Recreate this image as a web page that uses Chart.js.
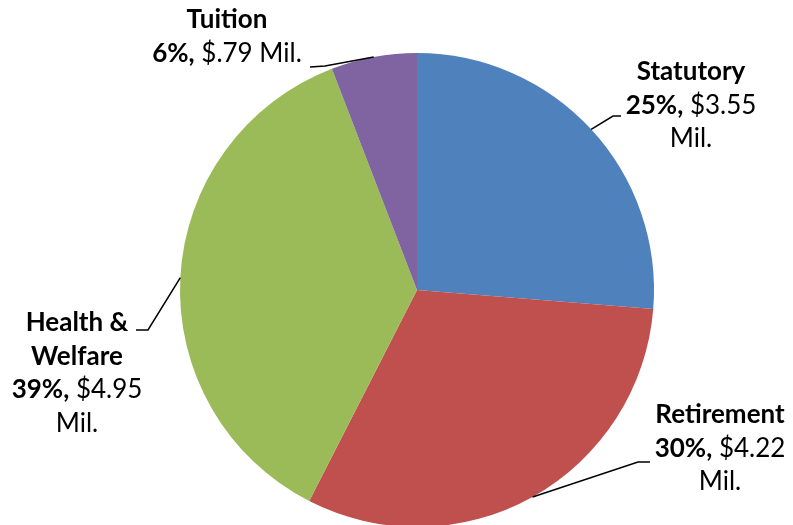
<!DOCTYPE html>
<html>
<head>
<meta charset="utf-8">
<script src="https://cdn.jsdelivr.net/npm/chart.js@4/dist/chart.umd.min.js"></script>
<style>
  html, body { margin: 0; padding: 0; background: #fff; overflow: hidden; }
  #wrap { width: 793px; height: 525px; overflow: hidden; position: relative; }
  #wrap canvas { position: absolute; left: 0; top: 0; }
</style>
</head>
<body>
<div id="wrap"><canvas id="pieChart" width="793" height="560"></canvas></div>
<script>
const categories = ["Statutory", "Retirement", "Health & Welfare", "Tuition"];
const amounts = [3.55, 4.22, 4.95, 0.79];          // $ millions
const percentLabels = ["25%", "30%", "39%", "6%"];
const amountLabels = ["$3.55 Mil.", "$4.22 Mil.", "$4.95 Mil.", "$.79 Mil."];
const colors = ["#4F81BD", "#C0504D", "#9BBB59", "#8064A2"];

const FONT = "Lato, 'Open Sans', sans-serif";
const FS = 26;
const LH = 33.5;

// label block layout: center x, first baseline y, lines, elbow point
const labelLayout = [
    { x: 691, y: 80, lines: [[["Statutory", true]], [["25%,", true], [" $3.55", false]], [["Mil.", false]]], elbow: [613, 116], end: [621, 116] },
    { x: 720, y: 423, lines: [[["Retirement", true]], [["30%,", true], [" $4.22", false]], [["Mil.", false]]], elbow: [638, 462], end: [650, 462] },
    { x: 77, y: 331, lines: [[["Health &", true]], [["Welfare", true]], [["39%,", true], [" $4.95", false]], [["Mil.", false]]], elbow: [148, 330], end: [136, 330] },
    { x: 227, y: 28, lines: [[["Tuition", true]], [["6%,", true], [" $.79 Mil.", false]]], elbow: [325, 66], end: [310, 67] }
];

function drawRuns(ctx, runs, cx, y) {
    let total = 0;
    runs.forEach(([t, b]) => {
        ctx.font = (b ? "bold " : "") + FS + "px " + FONT;
        total += ctx.measureText(t).width;
    });
    let x = cx - total / 2;
    runs.forEach(([t, b]) => {
        ctx.font = (b ? "bold " : "") + FS + "px " + FONT;
        ctx.fillText(t, x, y);
        x += ctx.measureText(t).width;
    });
}

const labelPlugin = {
    id: "pieLabels",
    afterDraw(chart) {
        const ctx = chart.ctx;
        const arcs = chart.getDatasetMeta(0).data;
        ctx.save();
        ctx.fillStyle = "#000";
        ctx.textBaseline = "alphabetic";
        arcs.forEach((arc, i) => {
            const lay = labelLayout[i];
            const mid = (arc.startAngle + arc.endAngle) / 2;
            const px = arc.x + Math.cos(mid) * arc.outerRadius;
            const py = arc.y + Math.sin(mid) * arc.outerRadius;
            ctx.strokeStyle = "#000";
            ctx.lineWidth = 1.5;
            ctx.beginPath();
            ctx.moveTo(px, py);
            ctx.lineTo(lay.elbow[0], lay.elbow[1]);
            ctx.lineTo(lay.end[0], lay.end[1]);
            ctx.stroke();
            lay.lines.forEach((runs, k) => drawRuns(ctx, runs, lay.x, lay.y + k * LH));
        });
        ctx.restore();
    }
};

new Chart(document.getElementById("pieChart").getContext("2d"), {
    type: "pie",
    data: {
        labels: categories,
        datasets: [{
            data: amounts,
            backgroundColor: colors,
            borderWidth: 0
        }]
    },
    options: {
        responsive: false,
        animation: false,
        layout: { padding: { left: 180, right: 139, top: 53, bottom: 33 } },
        plugins: {
            legend: { display: false },
            tooltip: { enabled: false }
        }
    },
    plugins: [labelPlugin]
});
</script>
</body>
</html>
